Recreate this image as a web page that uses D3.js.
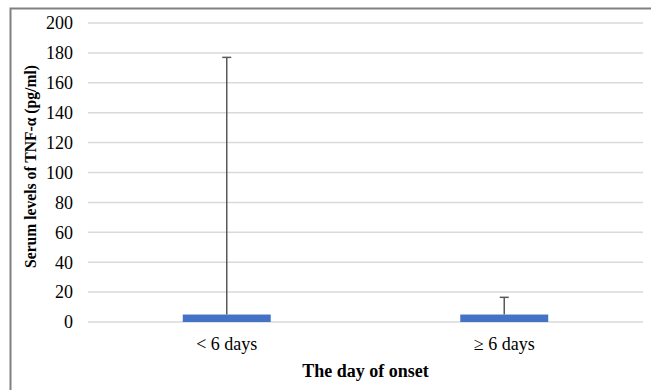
<!DOCTYPE html>
<meta charset="utf-8">
<style>
body { margin: 0; background: #fff; }
svg text { font-family: "Liberation Serif", "Times New Roman", serif; fill: #000; }
.grid line { stroke: #d9d9d9; stroke-width: 1.5px; }
.bar { fill: #4472c4; }
.err { stroke: #595959; stroke-width: 1.5px; fill: none; }
</style>
<body>
<script src="https://cdn.jsdelivr.net/npm/d3@7"></script>
<script>
// values
var groups = ["< 6 days", "\u2265 6 days"];
var means = [5, 5];
var upper = [177, 16.5];
var yTicks = [0, 20, 40, 60, 80, 100, 120, 140, 160, 180, 200];

var W = 651, H = 390;
var margin = {top: 23, right: 8, bottom: 68, left: 88};
var width = W - margin.left - margin.right,
    height = H - margin.top - margin.bottom;

var svg = d3.select("body").append("svg")
    .attr("width", W)
    .attr("height", H);

// outer frame (cut off at right and bottom, like the source image)
svg.append("path")
    .attr("d", "M10.5," + H + "V8.5H" + W)
    .attr("fill", "none")
    .attr("stroke", "#808080")
    .attr("stroke-width", 2);

var g = svg.append("g")
    .attr("transform", "translate(" + margin.left + "," + margin.top + ")");

var x = d3.scaleBand().domain(groups).range([0, width]);
var y = d3.scaleLinear().domain([0, 200]).range([height, 0]);

// gridlines
g.append("g").attr("class", "grid")
  .selectAll("line").data(yTicks).enter().append("line")
    .attr("x1", 0).attr("x2", width)
    .attr("y1", function(d) { return y(d); })
    .attr("y2", function(d) { return y(d); });

// y tick labels
g.append("g").selectAll("text").data(yTicks).enter().append("text")
    .attr("x", -15)
    .attr("y", function(d) { return y(d); })
    .attr("dy", "0.35em")
    .attr("text-anchor", "end")
    .style("font-size", "18px")
    .text(function(d) { return d; });

var barW = x.bandwidth() * 0.317;

// error bars (upper only)
var err = g.append("g").selectAll("g").data(groups).enter().append("g");
err.append("line").attr("class", "err")
    .attr("x1", function(d) { return x(d) + x.bandwidth() / 2; })
    .attr("x2", function(d) { return x(d) + x.bandwidth() / 2; })
    .attr("y1", function(d, i) { return y(means[i]); })
    .attr("y2", function(d, i) { return y(upper[i]); });
err.append("line").attr("class", "err")
    .attr("x1", function(d) { return x(d) + x.bandwidth() / 2 - 4.5; })
    .attr("x2", function(d) { return x(d) + x.bandwidth() / 2 + 4.5; })
    .attr("y1", function(d, i) { return y(upper[i]); })
    .attr("y2", function(d, i) { return y(upper[i]); });

// bars
g.append("g").selectAll("rect").data(groups).enter().append("rect")
    .attr("class", "bar")
    .attr("x", function(d) { return x(d) + (x.bandwidth() - barW) / 2; })
    .attr("width", barW)
    .attr("y", function(d, i) { return y(means[i]); })
    .attr("height", function(d, i) { return y(0) - y(means[i]); });

// x labels
g.append("g").selectAll("text").data(groups).enter().append("text")
    .attr("x", function(d) { return x(d) + x.bandwidth() / 2; })
    .attr("y", height + 28)
    .attr("text-anchor", "middle")
    .style("font-size", "18px")
    .text(function(d) { return d; });

// axis titles
svg.append("text")
    .attr("x", margin.left + width / 2)
    .attr("y", 377)
    .attr("text-anchor", "middle")
    .style("font-size", "18px")
    .style("font-weight", "bold")
    .text("The day of onset");

svg.append("text")
    .attr("transform", "translate(36,166.5) rotate(-90)")
    .attr("text-anchor", "middle")
    .attr("textLength", 203)
    .attr("lengthAdjust", "spacingAndGlyphs")
    .style("font-size", "16px")
    .style("font-weight", "bold")
    .text("Serum levels of TNF-\u03b1 (pg/ml)");
</script>
</body>
